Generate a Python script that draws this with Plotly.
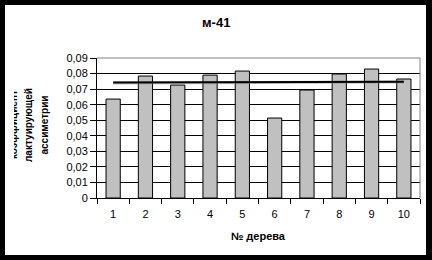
import plotly.graph_objects as go

trees = ["1", "2", "3", "4", "5", "6", "7", "8", "9", "10"]
asym = [0.0636, 0.0784, 0.0726, 0.0790, 0.0816, 0.0514, 0.0694, 0.0797, 0.0829, 0.0765]
trend_x = ["1", "10"]
trend_y = [0.0742, 0.0748]
ytick_vals = [0, 0.01, 0.02, 0.03, 0.04, 0.05, 0.06, 0.07, 0.08, 0.09]
ytick_text = ["0", "0,01", "0,02", "0,03", "0,04", "0,05", "0,06", "0,07", "0,08", "0,09"]
title_text = "м-41"
xtitle = "№ дерева"
ytitle_lines = ["коэффициент", "лактуирующей", "ассиметрии"]

W, H = 432, 260
L, R, T, B = 97, 12, 58, 62
PW, PH = W - L - R, H - T - B

def px(x):
    return (x - L) / PW

def py(y):
    return (H - B - y) / PH

FONT = "Liberation Sans, Arial, sans-serif"

fig = go.Figure()
fig.add_trace(go.Bar(x=trees, y=asym, marker=dict(color="#C0C0C0", line=dict(color="black", width=1)),
                     width=0.44, showlegend=False))
fig.add_trace(go.Scatter(x=trend_x, y=[v - 0.0003 for v in trend_y], mode="lines",
                         line=dict(color="rgba(128,128,128,0.5)", width=3), showlegend=False, hoverinfo="skip"))
fig.add_trace(go.Scatter(x=trend_x, y=trend_y, mode="lines", line=dict(color="black", width=2),
                         showlegend=False))

shapes = [
    dict(type="line", xref="paper", yref="paper", x0=0, x1=1, y0=1, y1=1, line=dict(color="#808080", width=1)),
    dict(type="line", xref="paper", yref="paper", x0=1, x1=1, y0=0, y1=1, line=dict(color="#808080", width=1)),
    # outer black frame
    dict(type="rect", xref="paper", yref="paper", x0=px(0), x1=px(5), y0=py(H), y1=py(0),
         fillcolor="black", line=dict(width=0), layer="above"),
    dict(type="rect", xref="paper", yref="paper", x0=px(0), x1=px(W), y0=py(5), y1=py(0),
         fillcolor="black", line=dict(width=0), layer="above"),
    dict(type="rect", xref="paper", yref="paper", x0=px(426), x1=px(W), y0=py(H), y1=py(0),
         fillcolor="black", line=dict(width=0), layer="above"),
    dict(type="rect", xref="paper", yref="paper", x0=px(0), x1=px(W), y0=py(H), y1=py(255),
         fillcolor="black", line=dict(width=0), layer="above"),
]

annotations = [
    dict(text="<b>" + title_text + "</b>", xref="paper", yref="paper", x=px(216), y=py(22),
         xanchor="center", yanchor="middle", showarrow=False, font=dict(size=13, color="black", family=FONT)),
    dict(text="<b>" + xtitle + "</b>", xref="paper", yref="paper", x=px(258), y=py(236),
         xanchor="center", yanchor="middle", showarrow=False, font=dict(size=11, color="black", family=FONT)),
]
for i, (line, cx) in enumerate(zip(ytitle_lines, [13, 28, 43.5])):
    annotations.append(dict(text="<b>" + line + "</b>", xref="paper", yref="paper", x=px(cx), y=py(125),
                            xanchor="center", yanchor="middle", textangle=-90, showarrow=False,
                            font=dict(size=10, color="black", family=FONT)))
# white cover clipping the first line
annotations.append(dict(text=" ", xref="paper", yref="paper", x=px(5), y=py(125), xanchor="left",
                        yanchor="middle", width=9, height=90, bgcolor="white", showarrow=False,
                        borderpad=0, borderwidth=0))
annotations.append(dict(text=" ", xref="paper", yref="paper", x=px(0), y=py(125), xanchor="left",
                        yanchor="middle", width=5, height=90, bgcolor="black", showarrow=False,
                        borderpad=0, borderwidth=0))

fig.update_layout(
    width=W, height=H,
    margin=dict(l=L, r=R, t=T, b=B, pad=0),
    paper_bgcolor="white", plot_bgcolor="white",
    font=dict(family=FONT, size=11, color="black"),
    bargap=0.56,
    shapes=shapes, annotations=annotations,
    xaxis=dict(type="category", tickson="boundaries", ticks="outside", ticklen=5, tickcolor="black",
               showline=True, linecolor="black", linewidth=1, showgrid=False, zeroline=False,
               ticklabelstandoff=6,
               tickfont=dict(size=11, family=FONT, color="black"), range=[-0.5, 9.5]),
    yaxis=dict(range=[0, 0.09], tickvals=ytick_vals, ticktext=ytick_text, ticks="outside", ticklen=6,
               tickcolor="black", showline=True, linecolor="black", linewidth=1,
               showgrid=True, gridcolor="black", gridwidth=1, zeroline=False,
               tickfont=dict(size=11, family=FONT, color="black")),
)

fig.write_html("out.html")
